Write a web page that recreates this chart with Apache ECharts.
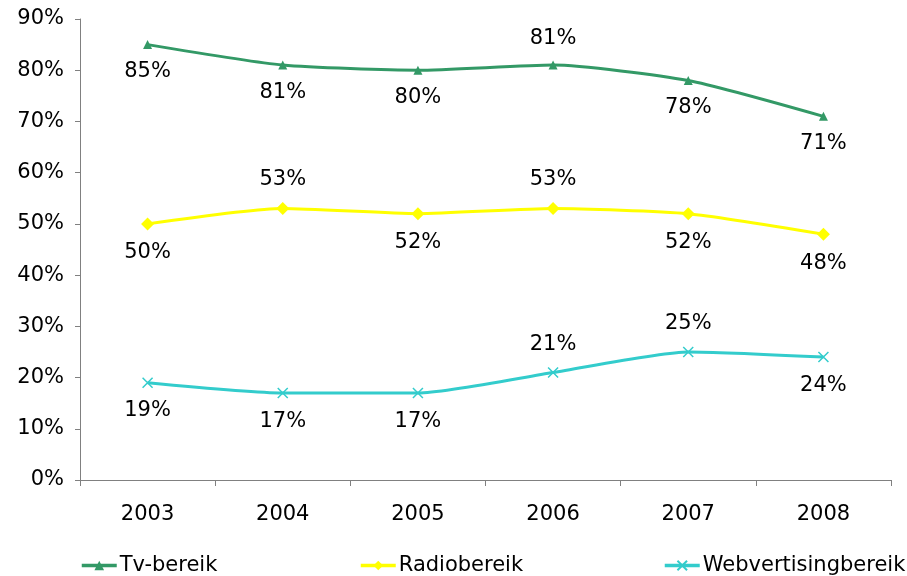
<!DOCTYPE html>
<html>
<head>
<meta charset="utf-8">
<script src="https://cdn.jsdelivr.net/npm/echarts@6/dist/echarts.min.js"></script>
<style>
  html, body { margin: 0; padding: 0; background: #fff; }
  #chart { width: 907px; height: 576px; }
</style>
</head>
<body>
<div id="chart"></div>
<script>
// categorieen en waarden (in %)
const years = ["2003", "2004", "2005", "2006", "2007", "2008"];
const tvBereik = [85, 81, 80, 81, 78, 71];
const radioBereik = [50, 53, 52, 53, 52, 48];
const webBereik = [19, 17, 17, 21, 25, 24];

const FONT = "DejaVu Sans";
const FS = 21;

// label boven of onder het punt
function labelled(values, above) {
    return values.map(function (v, i) {
        return {
            value: v,
            label: { position: above.indexOf(i) >= 0 ? "top" : "bottom" }
        };
    });
}

function lineSeries(name, color, symbol, symbolSize, values, above) {
    return {
        name: name,
        type: "line",
        smooth: 0.2,
        symbol: symbol,
        symbolSize: symbolSize,
        lineStyle: { color: color, width: 3 },
        itemStyle: { color: color, borderColor: color, borderWidth: symbol.indexOf("path://") === 0 ? 1.5 : 0 },
        label: {
            show: true,
            formatter: "{c}%",
            distance: 12,
            color: "#000",
            fontFamily: FONT,
            fontSize: FS
        },
        data: labelled(values, above)
    };
}

function legendAt(left, name) {
    return {
        left: left,
        top: 550,
        itemWidth: 35,
        itemHeight: 12,
        itemGap: 0,
        lineStyle: { width: 3.5 },
        textStyle: { fontFamily: FONT, fontSize: FS, color: "#000", padding: [0, 0, 0, -2] },
        data: [name]
    };
}

const chart = echarts.init(document.getElementById("chart"));
const option = {
    animation: false,
    textStyle: { fontFamily: FONT },
    grid: { left: 80, right: 16, top: 19, bottom: 96, containLabel: false },
    legend: [
        legendAt(75, "Tv-bereik"),
        legendAt(354, "Radiobereik"),
        legendAt(658, "Webvertisingbereik")
    ],
    xAxis: {
        type: "category",
        data: years,
        boundaryGap: true,
        axisLine: { lineStyle: { color: "#808080", width: 1 } },
        axisTick: { show: true, interval: 0, length: 6, lineStyle: { color: "#808080" } },
        axisLabel: { color: "#000", fontFamily: FONT, fontSize: FS, margin: 24 }
    },
    yAxis: {
        type: "value",
        min: 0,
        max: 90,
        interval: 10,
        axisLine: { show: true, lineStyle: { color: "#808080", width: 1 } },
        axisTick: { show: true, length: 5, lineStyle: { color: "#808080" } },
        splitLine: { show: false },
        axisLabel: { color: "#000", fontFamily: FONT, fontSize: FS, margin: 16, formatter: "{value}%" }
    },
    series: [
        lineSeries("Tv-bereik", "#339966", "triangle", 9, tvBereik, [3]),
        lineSeries("Radiobereik", "#FFFF00", "diamond", 13, radioBereik, [1, 3]),
        lineSeries("Webvertisingbereik", "#33CCCC", "path://M0,0L10,10M10,0L0,10", 10, webBereik, [3, 4])
    ]
};
chart.setOption(option);
</script>
</body>
</html>
